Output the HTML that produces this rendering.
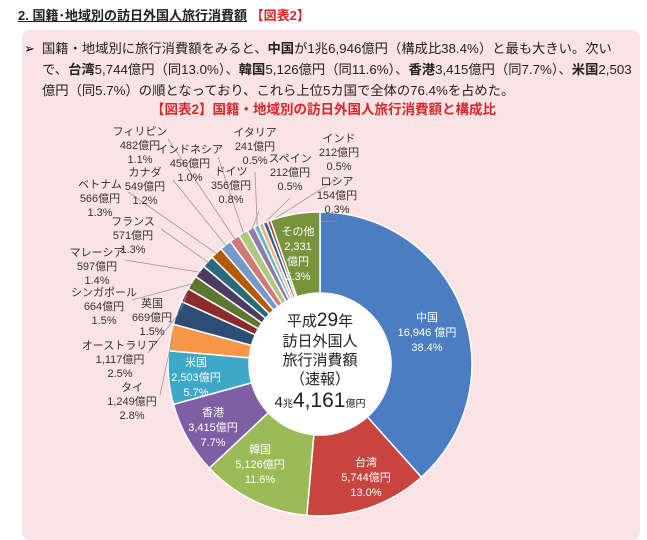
<!DOCTYPE html>
<html><head><meta charset="utf-8">
<style>
body{margin:0;width:647px;height:532px;overflow:hidden;background:#fff;font-family:"Liberation Sans","Noto Sans CJK JP",sans-serif;}
#hdr{position:absolute;left:18px;top:5px;font-size:13px;font-weight:bold;color:#222;}
#hdr u{text-decoration:underline;}
#hdr span{color:#d9262c;}
#box{position:absolute;left:22px;top:30px;width:618px;height:510px;background:#fbe3e5;border-radius:8px;}
#bul{position:absolute;left:42px;top:38px;width:590px;font-size:13.3px;line-height:21px;color:#222;}
#arrow{position:absolute;left:24px;top:38px;font-size:13px;line-height:21px;}
#ctitle{position:absolute;left:0;width:647px;top:98px;text-align:center;color:#d9262c;font-weight:bold;font-size:13.5px;}
svg{position:absolute;left:0;top:0;}
</style></head><body>
<div id="hdr"><u>2. 国籍･地域別の訪日外国人旅行消費額</u> <span>【図表2】</span></div>
<div id="box"></div>
<div id="arrow">➢</div>
<div id="bul">国籍・地域別に旅行消費額をみると、<b>中国</b>が1兆6,946億円（構成比38.4%）と最も大きい。次いで、<b>台湾</b>5,744億円（同13.0%）、<b>韓国</b>5,126億円（同11.6%）、<b>香港</b>3,415億円（同7.7%）、<b>米国</b>2,503億円（同5.7%）の順となっており、これら上位5カ国で全体の76.4%を占めた。</div>
<div id="ctitle">【図表2】国籍・地域別の訪日外国人旅行消費額と構成比</div>
<svg id="chart" width="647" height="532"></svg>
<script>
const categories=["中国","台湾","韓国","香港","米国","タイ","オーストラリア","英国","シンガポール","マレーシア","フランス","ベトナム","カナダ","フィリピン","インドネシア","ドイツ","イタリア","スペイン","インド","ロシア","その他"];
const values=[16946,5744,5126,3415,2503,1249,1117,669,664,597,571,566,549,482,456,356,241,212,212,154,2331];
const percents=["38.4%","13.0%","11.6%","7.7%","5.7%","2.8%","2.5%","1.5%","1.5%","1.4%","1.3%","1.3%","1.2%","1.1%","1.0%","0.8%","0.5%","0.5%","0.5%","0.3%","5.3%"];
const valueLabels=["16,946 億円","5,744億円","5,126億円","3,415億円","2,503億円","1,249億円","1,117億円","669億円","664億円","597億円","571億円","566億円","549億円","482億円","456億円","356億円","241億円","212億円","212億円","154億円","2,331"];
const colors=["#4a7dc1","#c8453f","#9bbb59","#7e5fa5","#3ea8c8","#f79646","#2c4d76","#8c2b2b","#5f7631","#4d3b63","#276b7c","#b65a0a","#729aca","#d07a77","#b0c97c","#8f7bae","#6bb6cc","#f9aa6c","#3b5f90","#9e3b3a","#77943c"];
// outside label anchor positions (layout, not data)
const outPos={5:[132,387],6:[120,345],7:[152,303],8:[104,292],9:[97,252],10:[133,221],11:[100,184],12:[145,172],13:[140,131],14:[190,149],15:[231,171],16:[255,132],17:[290,158],18:[339,138],19:[337,181]};
const inPos={0:[427,317],1:[366,462],2:[260,449],3:[213,412],4:[196,362],20:[298,231]};
const cx=320,cy=364,R=152,r=71;
const svg=document.getElementById('chart');
const NS='http://www.w3.org/2000/svg';
const total=values.reduce((a,b)=>a+b,0);
function pt(a,rad){return [cx+rad*Math.cos(a),cy+rad*Math.sin(a)];}
function mk(t,attrs){const e=document.createElementNS(NS,t);for(const k in attrs)e.setAttribute(k,attrs[k]);svg.appendChild(e);return e;}
let ang=-Math.PI/2;
values.forEach((v,i)=>{
  const a0=ang,a1=ang+v/total*2*Math.PI;ang=a1;
  const [x0,y0]=pt(a0,R),[x1,y1]=pt(a1,R),[x2,y2]=pt(a1,r),[x3,y3]=pt(a0,r);
  const lg=(a1-a0)>Math.PI?1:0;
  const p=mk('path',{d:`M${x0},${y0}A${R},${R} 0 ${lg} 1 ${x1},${y1}L${x2},${y2}A${r},${r} 0 ${lg} 0 ${x3},${y3}Z`,fill:colors[i],stroke:'#fff','stroke-width':1.5});
  
  
  const am=(a0+a1)/2;
  if(outPos[i]){
    const [lx,ly]=outPos[i];
    const [ex,ey]=pt(am,R-2);
    const sx=lx+(ex>lx?30:0), sy=ly+ (i>=15?48:10);
    const ln=mk('polyline',{points:`${lx+ (i>=16? 0:28)},${ly+(i>=15?40:8)} ${ex},${ey}`,fill:'none',stroke:'#999','stroke-width':0.8});
    
    
    [categories[i],valueLabels[i],percents[i]].forEach((s,k)=>{
      const t=mk('text',{x:lx,y:ly+4+k*14,'text-anchor':'middle','font-size':11,fill:'#333'});
      t.textContent=s;
      
      
    });
  } else {
    const [lx,ly]=inPos[i];
    const lines=i===20?[categories[i],valueLabels[i],"億円",percents[i]]:[categories[i],valueLabels[i],percents[i]];
    lines.forEach((s,k)=>{
      const t=mk('text',{x:lx,y:ly+4+k*15,'text-anchor':'middle','font-size':11,fill:'#fff'});
      t.textContent=s;
      
      
    });
  }
});
const hole=mk('circle',{cx:cx,cy:cy,r:r-1,fill:'#fff'});


const cl=[["平成<tspan font-size='19'>29</tspan>年",326],["訪日外国人",346],["旅行消費額",365],["（速報）",384],["4<tspan font-size='10'>兆</tspan><tspan font-size='21'>4,161</tspan><tspan font-size='10'>億円</tspan>",407]];
cl.forEach(([s,y])=>{
  const t=mk('text',{x:cx,y:y,'text-anchor':'middle','font-size':15,fill:'#222'});
  t.innerHTML=s;
  
  
});
</script>
</body></html>
